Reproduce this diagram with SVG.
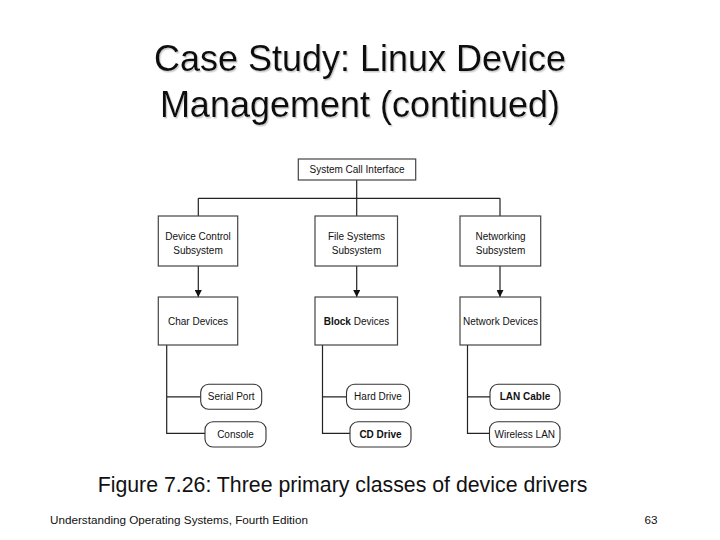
<svg xmlns="http://www.w3.org/2000/svg" width="720" height="540" viewBox="0 0 720 540">
<defs>
<style>
.title{font-family:"Liberation Sans",Arial,sans-serif;font-size:36px;fill:#111;text-anchor:middle}
.cap{font-family:"Liberation Sans",Arial,sans-serif;font-size:21.3px;fill:#111;text-anchor:middle}
.foot{font-family:"Liberation Sans",Arial,sans-serif;font-size:11.7px;fill:#111}
.lbl{font-family:"Liberation Sans",Arial,sans-serif;font-size:10px;fill:#111;text-anchor:middle}
.b{font-weight:bold}
.box{fill:#fff;stroke:#444;stroke-width:1.2}
.pill{fill:#fff;stroke:#333;stroke-width:1.1}
.ln{fill:none;stroke:#222;stroke-width:1.2}
</style>
<marker id="arr" viewBox="0 0 10 10" refX="10" refY="5" markerWidth="7" markerHeight="7" markerUnits="userSpaceOnUse" orient="auto">
<path d="M0,0 L10,5 L0,10 z" fill="#111"/>
</marker>
<filter id="sh" x="-5%" y="-20%" width="110%" height="140%">
<feDropShadow dx="1.2" dy="1.5" stdDeviation="0.5" flood-color="#aaa" flood-opacity="0.6"/>
</filter>
</defs>
<rect width="720" height="540" fill="#fff"/>
<g id="title" filter="url(#sh)">
<text class="title" x="360" y="70.5">Case Study: Linux Device</text>
<text class="title" x="360" y="117">Management (continued)</text>
</g>
<g id="connectors">
<path class="ln" d="M356.7,180 V198.3 M198.3,198.3 H500 M198.3,198.3 V216 M356.7,198.3 V216 M500,198.3 V216"/>
<path class="ln" d="M198.3,266 V297" marker-end="url(#arr)"/>
<path class="ln" d="M356.7,266 V297" marker-end="url(#arr)"/>
<path class="ln" d="M500,266 V297" marker-end="url(#arr)"/>
<path class="ln" d="M166.7,345 V433.3 H205 M166.7,396.8 H200.7"/>
<path class="ln" d="M322.5,345 V433.3 H350 M322.5,396.8 H346.5"/>
<path class="ln" d="M467.5,345 V433.3 H489.5 M467.5,396.8 H490"/>
</g>
<g id="sci"><rect class="box" x="298.3" y="159" width="117.4" height="21"/><text class="lbl" x="357" y="172.8">System Call Interface</text></g>
<g id="devctl"><rect class="box" x="158.3" y="216" width="79.4" height="50"/><text class="lbl" x="198" y="239.5">Device Control</text><text class="lbl" x="198" y="253.5">Subsystem</text></g>
<g id="fs"><rect class="box" x="315" y="216" width="82.5" height="50"/><text class="lbl" x="356.5" y="239.5">File Systems</text><text class="lbl" x="356.5" y="253.5">Subsystem</text></g>
<g id="net"><rect class="box" x="460" y="216" width="80.7" height="50"/><text class="lbl" x="500.5" y="239.5">Networking</text><text class="lbl" x="500.5" y="253.5">Subsystem</text></g>
<g id="char"><rect class="box" x="158.3" y="297" width="79.4" height="48"/><text class="lbl" x="198" y="324.5">Char Devices</text></g>
<g id="block"><rect class="box" x="315" y="297" width="82.5" height="48"/><text class="lbl" x="356.5" y="324.5"><tspan class="b">Block</tspan> Devices</text></g>
<g id="netdev"><rect class="box" x="460" y="297" width="80.7" height="48"/><text class="lbl" x="500.5" y="324.5">Network Devices</text></g>
<g id="serial"><rect class="pill" x="200.7" y="384.3" width="61" height="25" rx="8"/><text class="lbl" x="231.2" y="400.3">Serial Port</text></g>
<g id="console"><rect class="pill" x="205" y="421.7" width="61" height="25.3" rx="8"/><text class="lbl" x="235.5" y="437.8">Console</text></g>
<g id="hard"><rect class="pill" x="346.5" y="384.3" width="63" height="25" rx="8"/><text class="lbl" x="378" y="400.3">Hard Drive</text></g>
<g id="cd"><rect class="pill" x="350" y="421.7" width="61" height="25.3" rx="8"/><text class="lbl b" x="380.5" y="437.8">CD Drive</text></g>
<g id="lan"><rect class="pill" x="490" y="384.3" width="70" height="25" rx="8"/><text class="lbl b" x="525" y="400.3">LAN Cable</text></g>
<g id="wlan"><rect class="pill" x="489.5" y="421.7" width="70.5" height="25.3" rx="8"/><text class="lbl" x="524.8" y="437.8">Wireless LAN</text></g>
<g id="caption"><text class="cap" x="342.5" y="491.5">Figure 7.26: Three primary classes of device drivers</text></g>
<g id="footer"><text class="foot" x="50" y="524.3">Understanding Operating Systems, Fourth Edition</text><text class="foot" x="657.5" y="524.3" text-anchor="end">63</text></g>
</svg>
